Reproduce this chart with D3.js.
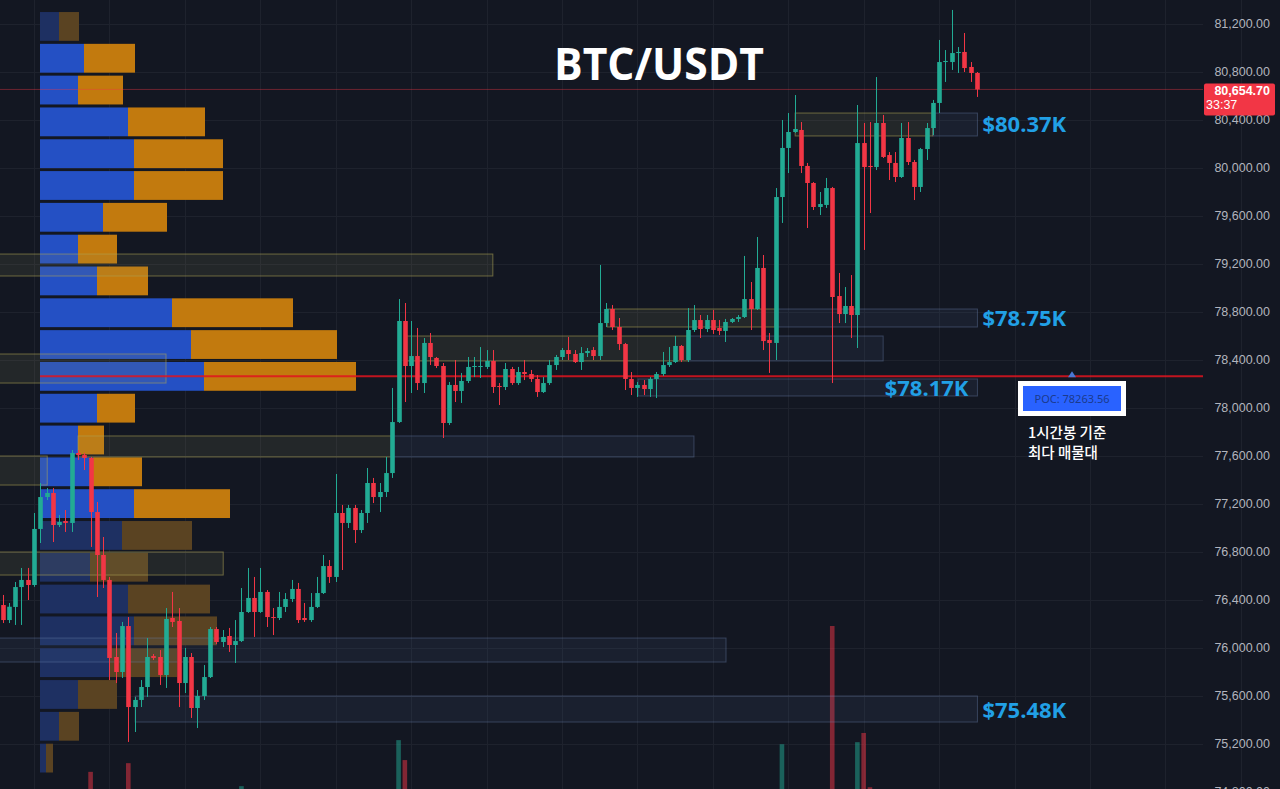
<!DOCTYPE html>
<html><head><meta charset="utf-8">
<script src="https://cdn.jsdelivr.net/npm/d3@7"></script>
<style>html,body{margin:0;padding:0;background:#131722;overflow:hidden}svg{display:block}</style>
</head><body>
<svg id="chart" width="1280" height="789"></svg>
<script>
// ---------------- DATA ----------------
const opens = [76358,76233,76342,76508,76567,76525,76992,77258,77292,77025,77058,77042,77625,77608,77583,77133,76775,76567,75925,75800,
76183,75508,75567,75675,75933,75925,75775,76250,76225,75708,75925,75500,75600,75758,76158,76050,76100,76025,76058,76300,
76417,76300,76467,76258,76250,76342,76408,76492,76250,76233,76342,76458,76683,76592,77125,77042,77167,76983,77125,77375,
77258,77300,77458,77883,78725,78350,78433,78208,78542,78417,78350,77875,78192,78142,78225,78342,78342,78342,78392,78183,
78175,78325,78208,78300,78283,78242,78133,78208,78358,78425,78483,78450,78383,78458,78483,78433,78708,78825,78675,78533,
78242,78167,78192,78158,78242,78283,78358,78383,78517,78400,78650,78733,78658,78733,78667,78642,78717,78742,78758,78908,
78825,79167,78567,78542,79758,80167,80300,80317,80017,79875,79675,79692,79833,78933,78783,78850,78775,80208,80017,80008,
80375,80108,80042,79925,80250,80050,79842,80158,80333,80542,80883,80883,80958,80967,80842,80792];
const highs = [76442,76375,76550,76667,76667,77125,77375,77333,77333,77108,77150,77650,77650,77625,77592,77217,76925,76592,76125,76217,
76258,75592,75733,76083,75950,75983,76333,76467,76333,76000,75958,75650,75858,76175,76175,76150,76167,76233,76500,76667,
76592,76667,76483,76333,76467,76458,76567,76542,76375,76458,76592,76775,76733,77450,77192,77192,77192,77150,77500,77417,
77375,77592,78167,78908,78875,78725,78667,78583,78625,78425,78375,78217,78400,78292,78425,78425,78508,78483,78483,78208,
78375,78342,78342,78400,78317,78275,78258,78400,78442,78500,78592,78483,78508,78500,78508,79192,78875,78858,78750,78542,
78300,78217,78233,78258,78300,78467,78508,78600,78525,78833,78858,78775,78775,78817,78733,78742,78750,78775,79267,79050,
79425,79275,78625,79833,80400,80458,80608,80383,80042,79883,79800,79917,79842,79125,79008,79108,80525,80375,80383,80758,
80442,80133,80133,80375,80383,80067,80167,80375,80567,81067,80983,81317,81008,81125,80883,80800];
const lows = [76208,76208,76192,76192,76400,76510,76875,77233,76883,77008,76967,76967,77567,77483,76842,76425,76500,75733,75708,75750,
75217,75300,75508,75592,75900,75692,75667,76175,75508,75625,75417,75333,75567,75750,76033,76008,75967,75875,76050,76292,
76092,76292,76175,76108,76233,76300,76383,76208,76217,76217,76333,76450,76542,76550,76650,77000,76875,76958,77042,77208,
77133,77258,77417,77875,78050,78125,78150,78125,78358,78333,77750,77858,78050,78042,78208,78258,78250,78325,78125,78025,
78150,78192,78192,78233,78217,78092,78125,78192,78317,78400,78400,78375,78317,78425,78400,78400,78675,78650,78483,78150,
78108,78092,78108,78092,78083,78267,78342,78375,78383,78383,78633,78583,78633,78617,78608,78550,78708,78717,78750,78650,
78817,78483,78292,78400,79542,79958,80292,79958,79500,79650,79608,79667,78208,78708,78708,78583,78500,79317,79625,79983,
80083,79900,79883,79917,80025,79733,79800,80067,80275,80458,80717,80817,80792,80800,80717,80592];
const closes = [76233,76344,76508,76567,76525,76992,77258,77292,77025,77050,77042,77625,77608,77583,77133,76775,76567,75917,75800,76183,
75508,75567,75675,75925,75917,75775,76242,76217,75708,75925,75500,75600,75758,76158,76050,76092,76025,76058,76300,76417,
76300,76467,76258,76250,76342,76408,76492,76233,76233,76342,76458,76683,76592,77125,77042,77167,76983,77125,77375,77258,
77300,77458,77883,78725,78350,78433,78208,78542,78425,78350,77875,78192,78142,78225,78342,78350,78350,78392,78175,78175,
78325,78208,78300,78283,78242,78133,78208,78358,78425,78483,78450,78383,78458,78475,78433,78708,78825,78675,78533,78242,
78167,78192,78158,78242,78283,78358,78383,78517,78400,78650,78733,78658,78733,78650,78642,78717,78742,78758,78908,78825,
79167,78558,78542,79758,80167,80300,80325,80017,79875,79675,79700,79833,78925,78783,78850,78775,80208,80008,80008,80375,
80092,80042,79925,80250,80050,79842,80158,80333,80542,80883,80892,80958,80967,80833,80792,80654.7];
const volumes = [140,110,160,150,120,190,170,90,150,80,90,200,90,100,550,200,180,210,160,180,
720,160,120,150,70,110,160,100,190,130,170,120,110,160,80,70,90,110,270,170,
140,150,120,90,100,90,110,130,80,100,120,140,90,200,150,90,130,90,160,100,
80,120,200,1170,780,200,160,170,110,60,190,150,110,100,100,50,70,60,120,70,
90,60,70,60,60,80,60,90,70,60,70,60,70,50,60,200,130,110,120,180,
110,60,60,80,70,90,80,100,80,140,110,80,80,90,60,80,50,50,190,150,
180,210,120,200,1090,180,130,160,180,130,90,110,3400,200,140,190,1130,1310,250,190,
140,100,110,130,120,140,120,100,130,190,100,160,90,120,90,110];

const priceTicks = [81200,80800,80400,80000,79600,79200,78800,78400,78000,77600,77200,76800,76400,76000,75600,75200,74800];

// volume profile (rows top -> bottom)
const profileCenters = [81179.7,80914.6,80649.5,80384.4,80119.3,79854.2,79589.2,79324.1,79059.0,78793.9,78528.8,78263.6,
77998.5,77733.4,77468.3,77203.2,76938.1,76673.0,76408.0,76142.9,75877.8,75612.7,75347.6,75082.5];
const profileUp   = [190,440,380,880,940,940,630,380,570,1320,1510,1640,570,380,530,940,820,500,880,940,700,380,190,60];
const profileDown = [200,510,450,770,890,890,640,390,510,1210,1460,1520,380,260,490,960,700,580,820,830,670,390,200,70];
const valueArea   = [false,true,true,true,true,true,true,true,true,true,true,true,true,true,true,true,false,false,false,false,false,false,false,false];
const profileBin = 265.1;
const pocPrice = 78263.56;
const lastPrice = 80654.70;

// zones: price top/bottom, candle index from/to, kind
const zones = [
  {top:79283,bottom:79100,from:-1,to:78.0,kind:"ob"},
  {top:78450,bottom:78208,from:-1,to:26.0,kind:"ob"},
  {top:76800,bottom:76608,from:-1,to:35.1,kind:"ob"},
  {top:77600,bottom:77358,from:-1,to:7.1,kind:"ob"},
  {top:77767,bottom:77592,from:12.0,to:62.0,kind:"ob"},
  {top:77767,bottom:77592,from:62.0,to:110.0,kind:"fvg"},
  {top:78600,bottom:78392,from:64.0,to:109.1,kind:"ob"},
  {top:78600,bottom:78392,from:109.1,to:140.1,kind:"fvg"},
  {top:78825,bottom:78675,from:96.2,to:122.9,kind:"ob"},
  {top:78825,bottom:78675,from:122.9,to:155.1,kind:"fvg"},
  {top:78242,bottom:78100,from:101.1,to:155.1,kind:"fvg"},
  {top:76083,bottom:75883,from:-1,to:115.1,kind:"fvg"},
  {top:75600,bottom:75383,from:21.1,to:155.1,kind:"fvg"},
  {top:80458,bottom:80267,from:126.1,to:148.0,kind:"ob"},
  {top:80458,bottom:80267,from:148.0,to:155.1,kind:"fvg"}
];
const levelLabels = [
  {text:"$80.37K", price:80370, align:"start"},
  {text:"$78.75K", price:78750, align:"start"},
  {text:"$78.17K", price:78170, align:"end"},
  {text:"$75.48K", price:75480, align:"start"}
];

// ---------------- CHART ----------------
const svg = d3.select("#chart");
const W = 1280, H = 789, plotRight = 1203;
const y = d3.scaleLinear().domain([74800, 81200]).range([792, 24]);
const x = d3.scaleLinear().domain([0, 155]).range([2.6, 976.8]);
const px = d3.scaleLinear().domain([0, 1000]).range([40, 140]);
const vy = d3.scaleLinear().domain([0, 3400]).range([800, 626]);
const UP = "#22ab94", DN = "#f23645";

svg.append("rect").attr("width", W).attr("height", H).attr("fill", "#131722");

// grid
const g = svg.append("g");
g.selectAll(".hg").data(priceTicks).join("line")
  .attr("x1", 0).attr("x2", plotRight).attr("y1", d => Math.round(y(d)) + 0.5).attr("y2", d => Math.round(y(d)) + 0.5)
  .attr("stroke", "#1e222d").attr("stroke-width", 1);
g.selectAll(".vg").data(d3.range(5, 200, 12)).join("line")
  .attr("x1", d => Math.round(x(d)) + 0.5).attr("x2", d => Math.round(x(d)) + 0.5)
  .attr("y1", 0).attr("y2", H).attr("stroke", "#1e222d").attr("stroke-width", 1);

// volume bars
svg.append("g").selectAll("rect").data(volumes).join("rect")
  .attr("x", (d, i) => x(i) - 2.3).attr("width", 4.6)
  .attr("y", d => vy(d)).attr("height", d => vy(0) - vy(d))
  .attr("fill", (d, i) => closes[i] >= opens[i] ? UP : DN).attr("opacity", 0.5);

// volume profile
const binPx = y(0) - y(profileBin);
const vp = svg.append("g");
profileCenters.forEach((c, i) => {
  const yc = y(c), top = yc - binPx / 2 + 1.5, h = binPx - 3;
  vp.append("rect").attr("x", px(0)).attr("y", top).attr("width", px(profileUp[i]) - px(0)).attr("height", h)
    .attr("fill", valueArea[i] ? "#2450c4" : "#1e3062");
  vp.append("rect").attr("x", px(profileUp[i])).attr("y", top).attr("width", px(profileDown[i]) - px(0)).attr("height", h)
    .attr("fill", valueArea[i] ? "#c27a0e" : "#5a4322");
});

// zones
svg.append("g").selectAll("rect").data(zones).join("rect")
  .attr("x", d => x(d.from)).attr("width", d => x(d.to) - x(d.from))
  .attr("y", d => y(d.top)).attr("height", d => y(d.bottom) - y(d.top))
  .attr("fill", d => d.kind === "ob" ? "rgba(150,150,90,0.13)" : "rgba(90,120,170,0.10)")
  .attr("stroke", d => d.kind === "ob" ? "rgba(175,165,85,0.55)" : "rgba(110,135,180,0.38)")
  .attr("stroke-width", 1);

// POC line and last price line
svg.append("line").attr("x1", 40).attr("x2", plotRight).attr("y1", y(pocPrice)).attr("y2", y(pocPrice))
  .attr("stroke", "#e0141e").attr("stroke-opacity", 0.85).attr("stroke-width", 2);
svg.append("line").attr("x1", 0).attr("x2", plotRight).attr("y1", y(lastPrice)).attr("y2", y(lastPrice))
  .attr("stroke", "#f23645").attr("stroke-opacity", 0.4).attr("stroke-width", 1);

// candles
const cg = svg.append("g");
const idx = d3.range(opens.length);
cg.selectAll("line").data(idx).join("line")
  .attr("x1", i => Math.round(x(i)) + 0.5).attr("x2", i => Math.round(x(i)) + 0.5)
  .attr("y1", i => y(highs[i])).attr("y2", i => y(lows[i]))
  .attr("stroke", i => closes[i] >= opens[i] ? UP : DN).attr("stroke-width", 1);
cg.selectAll("rect").data(idx).join("rect")
  .attr("x", i => Math.round(x(i)) + 0.5 - 2.3).attr("width", 4.6)
  .attr("y", i => y(Math.max(opens[i], closes[i])))
  .attr("height", i => Math.max(1, Math.abs(y(opens[i]) - y(closes[i]))))
  .attr("fill", i => closes[i] >= opens[i] ? UP : DN);

// level labels
const labelX = x(155.1);
svg.append("g").selectAll("text").data(levelLabels).join("text")
  .attr("x", d => d.align === "start" ? labelX + 5 : labelX - 9)
  .attr("y", d => y(d.price)).attr("dy", "0.36em")
  .attr("text-anchor", d => d.align)
  .attr("font-family", "'Open Sans', sans-serif").attr("font-weight", 700).attr("font-size", 22)
  .attr("fill", "#21a0e6").text(d => d.text);

// title
svg.append("text").attr("x", 554).attr("y", 80)
  .attr("font-family", "'Open Sans', sans-serif").attr("font-weight", 700).attr("font-size", 45)
  .attr("textLength", 210).attr("lengthAdjust", "spacingAndGlyphs")
  .attr("fill", "#ffffff").text("BTC/USDT");

// POC annotation
const pocY = y(pocPrice);
svg.append("path").attr("d", `M1068,${pocY + 1}L1072,${pocY - 5}L1076,${pocY + 1}Z`).attr("fill", "#4a78d6");
svg.append("rect").attr("x", 1018).attr("y", 381).attr("width", 108).attr("height", 35).attr("fill", "#ffffff");
svg.append("rect").attr("x", 1023).attr("y", 386).attr("width", 98).attr("height", 25).attr("fill", "#2962ff");
svg.append("text").attr("x", 1072).attr("y", 399).attr("dy", "0.35em").attr("text-anchor", "middle")
  .attr("font-family", "'Noto Sans', sans-serif").attr("font-size", 11).attr("fill", "#1b3a8c")
  .text("POC: " + pocPrice.toFixed(2));
svg.append("text").attr("x", 1028).attr("y", 438)
  .attr("font-family", "'Noto Sans CJK KR', sans-serif").attr("font-size", 14.5).attr("font-weight", 500).attr("fill", "#ffffff")
  .text("1시간봉 기준");
svg.append("text").attr("x", 1028).attr("y", 458)
  .attr("font-family", "'Noto Sans CJK KR', sans-serif").attr("font-size", 14.5).attr("font-weight", 500).attr("fill", "#ffffff")
  .text("최다 매물대");

// price axis
const fmt = d3.format(",.2f");
svg.append("g").selectAll("text").data(priceTicks).join("text")
  .attr("x", 1270).attr("y", d => y(d)).attr("dy", "0.35em").attr("text-anchor", "end")
  .attr("font-family", "'Liberation Sans', Arial, sans-serif").attr("font-size", 12.5)
  .attr("fill", "#b2b5be").text(d => fmt(d));

// last price tag
const lp = y(lastPrice);
svg.append("rect").attr("x", 1204).attr("y", lp - 6).attr("width", 71).attr("height", 32).attr("rx", 2).attr("fill", "#f23645");
svg.append("text").attr("x", 1270).attr("y", lp + 1).attr("dy", "0.35em").attr("text-anchor", "end")
  .attr("font-family", "'Liberation Sans', Arial, sans-serif").attr("font-size", 12.5).attr("font-weight", 700).attr("fill", "#ffffff").text(fmt(lastPrice));
svg.append("text").attr("x", 1206).attr("y", lp + 15).attr("dy", "0.35em")
  .attr("font-family", "'Liberation Sans', Arial, sans-serif").attr("font-size", 12.5).attr("fill", "#ffffff").text("33:37");
</script>
</body></html>
